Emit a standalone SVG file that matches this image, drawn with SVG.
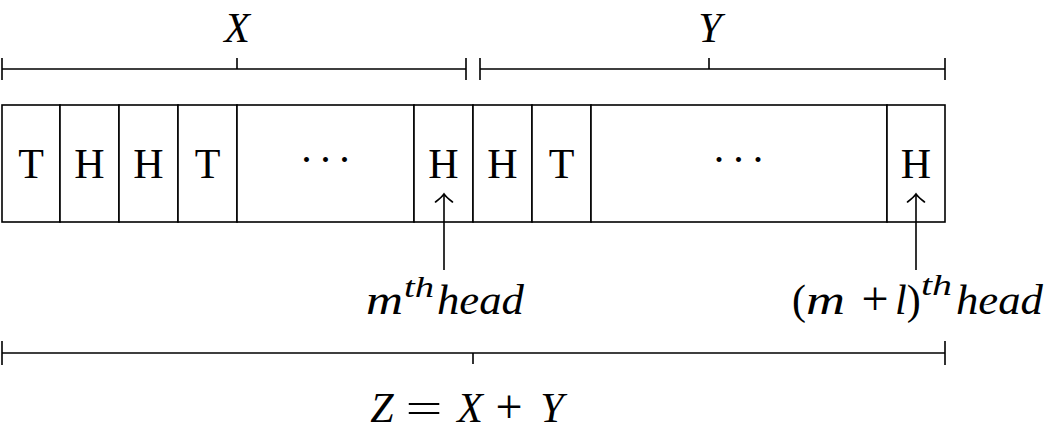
<svg xmlns="http://www.w3.org/2000/svg" width="1057" height="436" viewBox="0 0 1057 436">
  <style>
    .ln { stroke: #000; stroke-width: 1.6; fill: none; }
    .cell { stroke: #000; stroke-width: 1.6; fill: #fff; }
    .up { font-family: "Liberation Serif", "DejaVu Serif", serif; font-size: 42px; fill: #000; }
    .op { font-family: "Liberation Serif", "DejaVu Serif", serif; font-size: 48px; fill: #000; }
    .it { font-family: "Liberation Serif", "DejaVu Serif", serif; font-style: italic; font-size: 42px; fill: #000; }
    .sup { font-family: "Liberation Serif", "DejaVu Serif", serif; font-style: italic; font-size: 30px; fill: #000; }
    .mid { text-anchor: middle; }
  </style>
  <defs>
    <marker id="arr" markerUnits="userSpaceOnUse" markerWidth="20" markerHeight="24" refX="10" refY="12" viewBox="0 0 20 24" orient="auto" overflow="visible">
      <path d="M2 3.5 Q7 10 10 12 Q7 14 2 20.5" stroke="#000" stroke-width="1.6" fill="none" stroke-linecap="round"/>
    </marker>
  </defs>
  <rect width="1057" height="436" fill="#fff"/>

  <!-- Brackets -->
  <g id="bracket-X">
    <path class="ln" d="M2 69 H466 M2 58 V80 M466 58 V80 M237 58 V69"/>
    <text class="it mid" x="237" y="42">X</text>
  </g>
  <g id="bracket-Y">
    <path class="ln" d="M480 69 H945 M480 58 V80 M945 58 V80 M709 58 V69"/>
    <text class="it mid" x="710" y="42">Y</text>
  </g>

  <!-- Cells -->
  <g id="cell-1"><rect class="cell" x="2" y="105" width="58" height="117"/><text class="up mid" x="31" y="178">T</text></g>
  <g id="cell-2"><rect class="cell" x="60" y="105" width="59" height="117"/><text class="up mid" x="89.5" y="178">H</text></g>
  <g id="cell-3"><rect class="cell" x="119" y="105" width="59" height="117"/><text class="up mid" x="148.5" y="178">H</text></g>
  <g id="cell-4"><rect class="cell" x="178" y="105" width="59" height="117"/><text class="up mid" x="207.5" y="178">T</text></g>
  <g id="cell-5"><rect class="cell" x="237" y="105" width="177" height="117"/><text class="up mid" x="306.5 325.5 344.5" y="174">···</text></g>
  <g id="cell-6"><rect class="cell" x="414" y="105" width="59" height="117"/><text class="up mid" x="443.5" y="178">H</text></g>
  <g id="cell-7"><rect class="cell" x="473" y="105" width="59" height="117"/><text class="up mid" x="502.5" y="178">H</text></g>
  <g id="cell-8"><rect class="cell" x="532" y="105" width="59" height="117"/><text class="up mid" x="561.5" y="178">T</text></g>
  <g id="cell-9"><rect class="cell" x="591" y="105" width="296" height="117"/><text class="up mid" x="719 738.5 758" y="174">···</text></g>
  <g id="cell-10"><rect class="cell" x="887" y="105" width="58" height="117"/><text class="up mid" x="916" y="178">H</text></g>

  <!-- Labels -->
  <g id="label-m">
    <text class="it" x="366" y="314" textLength="37" lengthAdjust="spacingAndGlyphs">m</text>
    <text class="sup" x="404" y="297" textLength="30" lengthAdjust="spacingAndGlyphs">th</text>
    <text class="it" x="437" y="314" textLength="87" lengthAdjust="spacingAndGlyphs">head</text>
  </g>
  <g id="label-ml">
    <text class="up" x="792" y="314">(</text>
    <text class="it" x="806" y="314" textLength="39" lengthAdjust="spacingAndGlyphs">m</text>
    <text class="op mid" x="875" y="315">+</text>
    <text class="up" x="895" y="314"><tspan font-style="italic">l</tspan>)</text>
    <text class="sup" x="921" y="295" textLength="31" lengthAdjust="spacingAndGlyphs">th</text>
    <text class="it" x="956" y="314" textLength="87" lengthAdjust="spacingAndGlyphs">head</text>
  </g>

  <g id="bracket-Z">
    <path class="ln" d="M2 353 H945 M2 341 V365 M945 341 V365 M473 353 V364"/>
    <text class="it mid" x="382" y="422">Z</text>
    <text class="up mid" x="424" y="422" textLength="37" lengthAdjust="spacingAndGlyphs">=</text>
    <text class="it mid" x="470" y="422">X</text>
    <text class="op mid" x="509" y="423">+</text>
    <text class="it mid" x="552" y="422">Y</text>
  </g>

  <!-- Connectors -->
  <g id="connectors">
    <line class="ln" x1="444" y1="270" x2="444" y2="194" marker-end="url(#arr)"/>
    <line class="ln" x1="916" y1="270" x2="916" y2="194" marker-end="url(#arr)"/>
  </g>
</svg>
